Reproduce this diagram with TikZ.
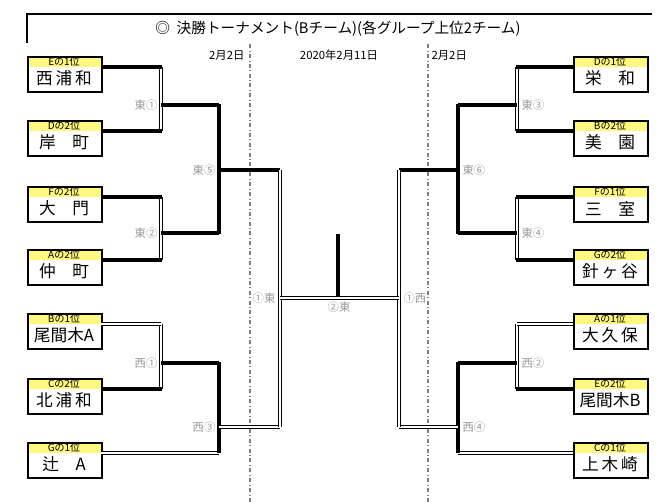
\documentclass[tikz,border=0pt]{standalone}
\usepackage{fontspec}
\setmainfont{Noto Sans CJK JP}
\tikzset{
  win/.style={line width=3pt},
  lose/.style={double=white,double distance=1.4pt,line width=1pt},
  rnd/.style={text=gray!80,font=\fontsize{8.5}{9}\selectfont,inner sep=1pt},
  datelbl/.style={font=\fontsize{8.5}{9}\selectfont,inner sep=1pt},
}
% team box: x-left, connector y, name, header, text
\newcommand{\teambox}[5]{%
  \fill[yellow!50] (#1,#2-11) rectangle ++(74,11);
  \node[draw,line width=1.6pt,minimum width=55.5pt,minimum height=26.25pt,anchor=north west,inner sep=0pt] (#3) at (#1,#2-11) {};
  \node[font=\fontsize{7.5}{7.5}\selectfont,inner sep=0pt] at (#1+37,#2-5.5) {#4};
  \node[font=\fontsize{12.5}{13}\selectfont,inner sep=0pt] at (#1+37,#2+11.5) {#5};
}
\begin{document}
\begin{tikzpicture}[x=0.75pt,y=-0.75pt]
\useasboundingbox (0,0) rectangle (670,503);
%title
\draw[line width=2.2pt] (27,43) -- (27,14) -- (652,14);
\node[font=\fontsize{11}{12}\selectfont] (title) at (338,29) {◎\ \ 決勝トーナメント(Bチーム)(各グループ上位2チーム)};
\draw[gray,dash dot,line width=1pt] (250,44) -- (250,503);
\draw[gray,dash dot,line width=1pt] (428,44) -- (428,503);
\node[datelbl,anchor=east] (d1) at (246,55) {2月2日};
\node[datelbl] (d2) at (339,55) {2020年2月11日};
\node[datelbl,anchor=west] (d3) at (430,55) {2月2日};
%left teams
\teambox{27}{67}{tA}{Eの1位}{西\,浦\,和}
\teambox{27}{131}{tB}{Dの2位}{岸　町}
\teambox{27}{197}{tC}{Fの2位}{大　門}
\teambox{27}{260}{tD}{Aの2位}{仲　町}
\teambox{27}{324}{tE}{Bの1位}{尾間木A}
\teambox{27}{389}{tF}{Cの2位}{北\,浦\,和}
\teambox{27}{453}{tG}{Gの1位}{辻　A}
%right teams
\teambox{573}{67}{tH}{Dの1位}{栄　和}
\teambox{573}{131}{tI}{Bの2位}{美　園}
\teambox{573}{197}{tJ}{Fの1位}{三　室}
\teambox{573}{260}{tK}{Gの2位}{針\,ヶ\,谷}
\teambox{573}{324}{tL}{Aの1位}{大\,久\,保}
\teambox{573}{389}{tM}{Eの2位}{尾間木B}
\teambox{573}{453}{tN}{Cの1位}{上\,木\,崎}
%left bracket
\draw[lose] (161,67) -- (161,131);
\draw[win] (101,67) -- (162,67);
\draw[win] (101,131) -- (162,131);
\draw[win] (161,105) -- (219,105);
\draw[lose] (161,197) -- (161,260);
\draw[win] (101,197) -- (162,197);
\draw[win] (101,260) -- (162,260);
\draw[win] (161,233) -- (219,233);
\draw[win] (219,103.9) -- (219,234.1);
\draw[win] (219,170) -- (280,170);
\draw[lose] (161,324) -- (161,389);
\draw[lose] (101,324) -- (161,324);
\draw[win] (101,389) -- (162,389);
\draw[win] (161,363) -- (219,363);
\draw[lose] (101,453) -- (219,453);
\draw[win] (219,361.9) -- (219,453);
\draw[lose] (219,427) -- (280,427);
\draw[lose] (280,170) -- (280,427);
%right bracket
\draw[lose] (517,67) -- (517,131);
\draw[win] (516,67) -- (573,67);
\draw[win] (516,131) -- (573,131);
\draw[win] (458,105) -- (517,105);
\draw[lose] (517,197) -- (517,260);
\draw[win] (516,197) -- (573,197);
\draw[win] (516,260) -- (573,260);
\draw[win] (458,233) -- (517,233);
\draw[win] (458,103.9) -- (458,234.1);
\draw[win] (399,170) -- (458,170);
\draw[lose] (517,324) -- (517,389);
\draw[lose] (517,324) -- (573,324);
\draw[win] (516,389) -- (573,389);
\draw[win] (458,363) -- (517,363);
\draw[lose] (458,453) -- (573,453);
\draw[win] (458,361.9) -- (458,453);
\draw[lose] (399,427) -- (458,427);
\draw[lose] (399,170) -- (399,427);
%final
\draw[lose] (280,298) -- (399,298);
\draw[win] (338,234) -- (338,296);
%round labels
\node[rnd,anchor=east] (m1) at (159,105) {東①};
\node[rnd,anchor=east] (m2) at (159,233) {東②};
\node[rnd,anchor=east] (m5) at (217,170) {東⑤};
\node[rnd,anchor=east] (w1) at (159,363) {西①};
\node[rnd,anchor=east] (w3) at (217,427) {西③};
\node[rnd,anchor=west] (m3) at (520,105) {東③};
\node[rnd,anchor=west] (m4) at (520,233) {東④};
\node[rnd,anchor=west] (m6) at (461,170) {東⑥};
\node[rnd,anchor=west] (w2) at (520,363) {西②};
\node[rnd,anchor=west] (w4) at (461,427) {西④};
\node[rnd,anchor=east] (f1) at (277,298) {①東};
\node[rnd,anchor=west] (f3) at (402,298) {①西};
\node[rnd] (f2) at (339,307) {②東};
\end{tikzpicture}
\end{document}
